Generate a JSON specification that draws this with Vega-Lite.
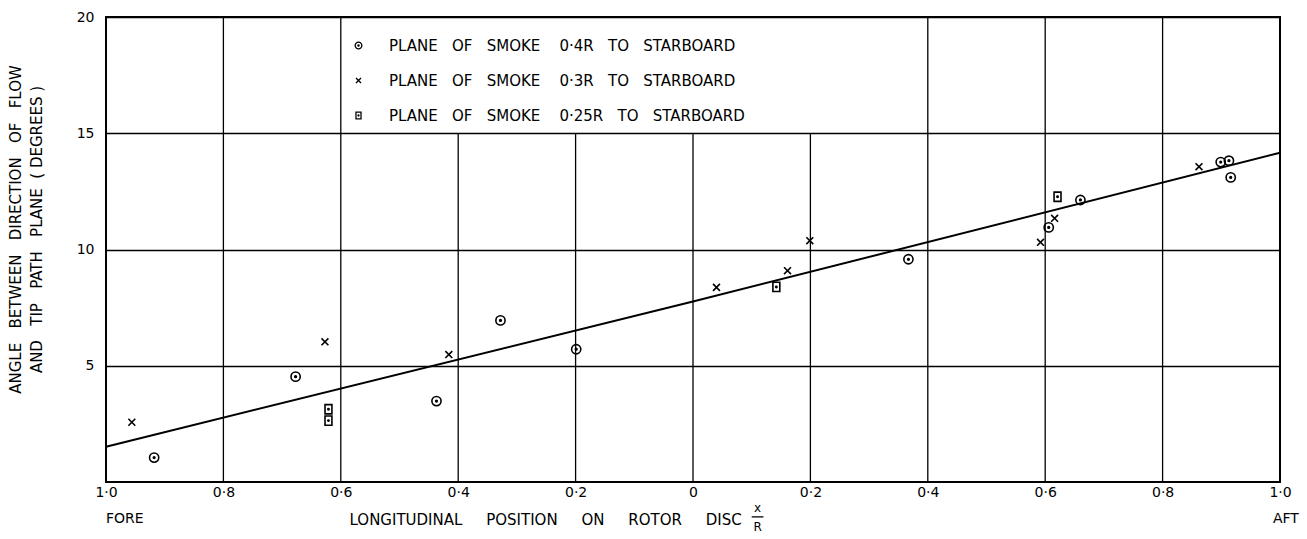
{
  "$schema": "https://vega.github.io/schema/vega-lite/v6.json",
  "width": 1174,
  "height": 465,
  "autosize": "none",
  "padding": {"left": 106, "top": 17, "right": 27, "bottom": 57},
  "background": "white",
  "config": {
    "font": "DejaVu Sans",
    "view": {"stroke": "black", "strokeWidth": 2}
  },
  "datasets": {
    "points": [
      {"series": "0.4R", "x": -0.918, "y": 1.05},
      {"series": "0.4R", "x": -0.677, "y": 4.53},
      {"series": "0.4R", "x": -0.437, "y": 3.48},
      {"series": "0.4R", "x": -0.328, "y": 6.95},
      {"series": "0.4R", "x": -0.199, "y": 5.71},
      {"series": "0.4R", "x": 0.367, "y": 9.58},
      {"series": "0.4R", "x": 0.606, "y": 10.95},
      {"series": "0.4R", "x": 0.660, "y": 12.13},
      {"series": "0.4R", "x": 0.899, "y": 13.76},
      {"series": "0.4R", "x": 0.913, "y": 13.82},
      {"series": "0.4R", "x": 0.916, "y": 13.10},
      {"series": "0.3R", "x": -0.956, "y": 2.57},
      {"series": "0.3R", "x": -0.627, "y": 6.03},
      {"series": "0.3R", "x": -0.416, "y": 5.48},
      {"series": "0.3R", "x": 0.040, "y": 8.37},
      {"series": "0.3R", "x": 0.161, "y": 9.09},
      {"series": "0.3R", "x": 0.199, "y": 10.38},
      {"series": "0.3R", "x": 0.592, "y": 10.31},
      {"series": "0.3R", "x": 0.616, "y": 11.34},
      {"series": "0.3R", "x": 0.862, "y": 13.56},
      {"series": "0.25R", "x": -0.621, "y": 3.13},
      {"series": "0.25R", "x": -0.621, "y": 2.64},
      {"series": "0.25R", "x": 0.142, "y": 8.39},
      {"series": "0.25R", "x": 0.621, "y": 12.27}
    ],
    "fit": [
      {"x": -1, "y": 1.52},
      {"x": 0, "y": 7.76},
      {"x": 1, "y": 14.16}
    ],
    "fullgrid": [{"x": -0.8}, {"x": -0.6}, {"x": 0.4}, {"x": 0.6}, {"x": 0.8}],
    "shortgrid": [{"x": -0.4}, {"x": -0.2}, {"x": 0}, {"x": 0.2}],
    "one": [{}]
  },
  "layer": [
    {
      "data": {"name": "fullgrid"},
      "mark": {"type": "rule", "color": "black", "strokeWidth": 1.3},
      "encoding": {
        "x": {
          "field": "x", "type": "quantitative",
          "scale": {"domain": [-1, 1]},
          "axis": {
            "values": [-1, -0.8, -0.6, -0.4, -0.2, 0, 0.2, 0.4, 0.6, 0.8, 1],
            "labelExpr": "datum.value == 0 ? '0' : replace(format(abs(datum.value), '.1f'), '.', '\u00b7')",
            "ticks": false, "domain": false, "grid": false,
            "labelFontSize": 14, "labelColor": "black", "labelPadding": 3, "labelFlush": false,
            "title": "LONGITUDINAL\u00a0\u00a0\u00a0\u00a0\u00a0POSITION\u00a0\u00a0\u00a0\u00a0\u00a0ON\u00a0\u00a0\u00a0\u00a0\u00a0ROTOR\u00a0\u00a0\u00a0\u00a0\u00a0DISC",
            "titleFontSize": 15, "titleFontWeight": "normal", "titleColor": "black",
            "titleX": 243, "titleY": 37, "titleAlign": "left", "titleBaseline": "middle"
          }
        },
        "y": {
          "datum": 0, "type": "quantitative",
          "scale": {"domain": [0, 20]},
          "axis": {
            "values": [5, 10, 15, 20],
            "ticks": false, "domain": false, "grid": true,
            "gridColor": "black", "gridWidth": 1.3, "gridOpacity": 1,
            "labelFontSize": 14, "labelColor": "black", "labelPadding": 12,
            "title": ["ANGLE\u00a0\u00a0\u00a0BETWEEN\u00a0\u00a0\u00a0DIRECTION\u00a0\u00a0\u00a0OF\u00a0\u00a0\u00a0FLOW", "AND\u00a0\u00a0\u00a0TIP\u00a0\u00a0\u00a0PATH\u00a0\u00a0\u00a0PLANE\u00a0\u00a0(\u00a0DEGREES\u00a0)"],
            "titleFontSize": 15, "titleFontWeight": "normal", "titleColor": "black",
            "titleLineHeight": 21,
            "titleX": -83, "titleY": 212, "titleAngle": -90, "titleAlign": "center", "titleBaseline": "bottom"
          }
        },
        "y2": {"datum": 20}
      }
    },
    {
      "data": {"name": "shortgrid"},
      "mark": {"type": "rule", "color": "black", "strokeWidth": 1.3},
      "encoding": {
        "x": {"field": "x", "type": "quantitative", "scale": {"domain": [-1, 1]}},
        "y": {"datum": 0, "type": "quantitative", "scale": {"domain": [0, 20]}},
        "y2": {"datum": 15}
      }
    },
    {
      "data": {"name": "fit"},
      "mark": {"type": "line", "color": "black", "strokeWidth": 2},
      "encoding": {
        "x": {"field": "x", "type": "quantitative", "scale": {"domain": [-1, 1]}},
        "y": {"field": "y", "type": "quantitative", "scale": {"domain": [0, 20]}}
      }
    },
    {
      "data": {"name": "points"},
      "mark": {"type": "point", "filled": false, "stroke": "black", "strokeWidth": 1.6, "size": 85, "opacity": 1},
      "encoding": {
        "x": {"field": "x", "type": "quantitative", "scale": {"domain": [-1, 1]}},
        "y": {"field": "y", "type": "quantitative", "scale": {"domain": [0, 20]}},
        "shape": {
          "field": "series", "type": "nominal",
          "scale": {
            "domain": ["0.4R", "0.3R", "0.25R"],
            "range": [
              "M-1,0A1,1,0,1,1,1,0A1,1,0,1,1,-1,0ZM-0.18,0A0.18,0.18,0,1,1,0.18,0A0.18,0.18,0,1,1,-0.18,0Z",
              "M-0.75,-0.75L0.75,0.75M-0.75,0.75L0.75,-0.75",
              "M-0.75,-1L0.75,-1L0.75,1L-0.75,1ZM-0.15,0A0.15,0.15,0,1,1,0.15,0A0.15,0.15,0,1,1,-0.15,0Z"
            ]
          },
          "legend": {
            "orient": "none", "legendX": 245, "legendY": 21,
            "title": null, "padding": 0,
            "labelExpr": "'PLANE\u00a0\u00a0\u00a0OF\u00a0\u00a0\u00a0SMOKE\u00a0\u00a0\u00a0\u00a0' + replace(datum.label, '.', '\u00b7') + '\u00a0\u00a0\u00a0TO\u00a0\u00a0\u00a0STARBOARD'",
            "labelFontSize": 15, "labelColor": "black", "labelOffset": 23,
            "symbolSize": 45, "symbolStrokeColor": "black", "symbolStrokeWidth": 1.3,
            "symbolFillColor": "transparent", "rowPadding": 19, "labelLimit": 700
          }
        }
      }
    },
    {
      "data": {"name": "one"},
      "mark": {"type": "text", "align": "left", "baseline": "middle", "fontSize": 14, "color": "black", "clip": false},
      "encoding": {
        "x": {"datum": -1, "type": "quantitative", "scale": {"domain": [-1, 1]}},
        "y": {"datum": -1.6, "type": "quantitative", "scale": {"domain": [0, 20]}},
        "text": {"value": "FORE"}
      }
    },
    {
      "data": {"name": "one"},
      "mark": {"type": "text", "align": "center", "baseline": "middle", "fontSize": 14, "color": "black", "clip": false},
      "encoding": {
        "x": {"datum": 1.01, "type": "quantitative", "scale": {"domain": [-1, 1]}},
        "y": {"datum": -1.6, "type": "quantitative", "scale": {"domain": [0, 20]}},
        "text": {"value": "AFT"}
      }
    },
    {
      "data": {"name": "one"},
      "mark": {"type": "text", "align": "center", "baseline": "middle", "fontSize": 12, "color": "black", "clip": false},
      "encoding": {
        "x": {"datum": 0.11, "type": "quantitative", "scale": {"domain": [-1, 1]}},
        "y": {"datum": -1.12, "type": "quantitative", "scale": {"domain": [0, 20]}},
        "text": {"value": "x"}
      }
    },
    {
      "data": {"name": "one"},
      "mark": {"type": "rule", "color": "black", "strokeWidth": 1.3, "clip": false},
      "encoding": {
        "x": {"datum": 0.1, "type": "quantitative", "scale": {"domain": [-1, 1]}},
        "x2": {"datum": 0.12},
        "y": {"datum": -1.5, "type": "quantitative", "scale": {"domain": [0, 20]}}
      }
    },
    {
      "data": {"name": "one"},
      "mark": {"type": "text", "align": "center", "baseline": "middle", "fontSize": 12, "color": "black", "clip": false},
      "encoding": {
        "x": {"datum": 0.11, "type": "quantitative", "scale": {"domain": [-1, 1]}},
        "y": {"datum": -1.92, "type": "quantitative", "scale": {"domain": [0, 20]}},
        "text": {"value": "R"}
      }
    }
  ]
}
